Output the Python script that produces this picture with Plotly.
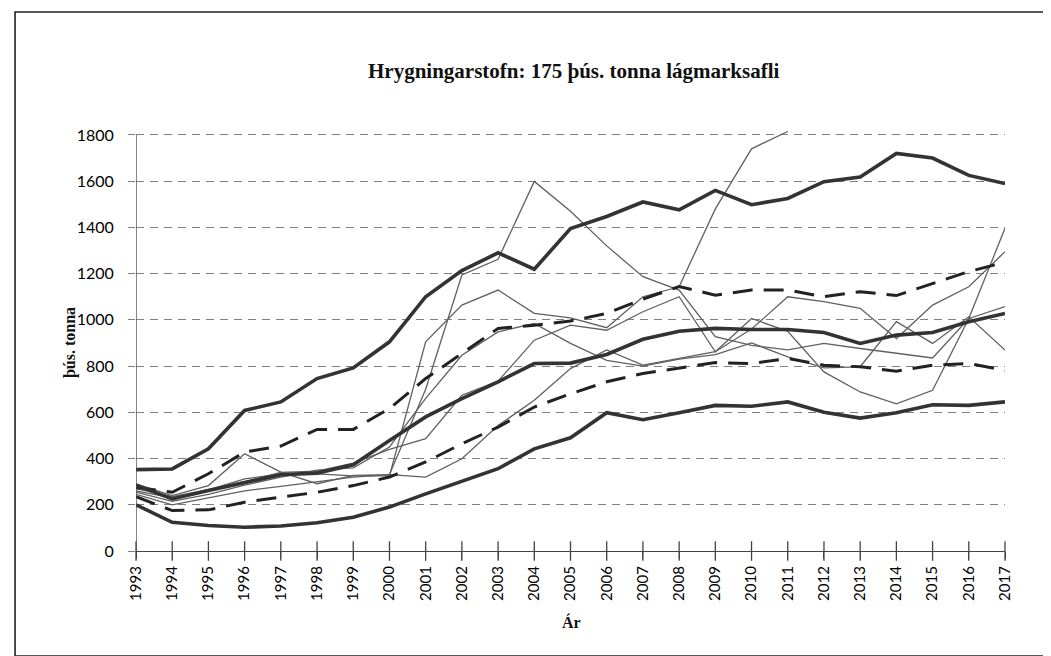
import plotly.graph_objects as go

years = list(range(1993, 2018))

upper_thick = [352, 355, 442, 608, 645, 746, 792, 905, 1100, 1213, 1290, 1219, 1395,
               1447, 1510, 1476, 1560, 1498, 1525, 1598, 1618, 1720, 1700, 1625, 1590]
median_thick = [285, 225, 262, 298, 330, 337, 373, 478, 580, 659, 732, 811, 813,
                850, 916, 951, 963, 958, 958, 945, 898, 934, 945, 992, 1028]
lower_thick = [200, 124, 110, 103, 108, 122, 146, 190, 247, 300, 356, 442, 490,
               598, 568, 598, 630, 626, 645, 600, 575, 598, 633, 630, 645]
upper_dashed = [275, 254, 334, 428, 454, 526, 526, 616, 746, 854, 963, 977, 995,
                1028, 1090, 1144, 1107, 1129, 1129, 1100, 1122, 1105, 1158, 1209, 1249]
lower_dashed = [235, 175, 178, 211, 233, 254, 283, 320, 385, 464, 536, 623, 680,
                732, 768, 792, 815, 811, 833, 804, 797, 778, 804, 811, 782]

run_1 = [270, 235, 265, 312, 334, 334, 325, 325, 905, 1064, 1129, 1028, 1009,
         966, 1100, 1143, 1480, 1740, 1815, None, None, None, None, None, None]
run_2 = [290, 240, 283, 421, 341, 291, 327, 330, 700, 1194, 1262, 1599, 1470,
         1320, 1187, 1129, 927, 890, 870, 898, 876, 854, 835, 1006, 1057]
run_3 = [260, 230, 265, 300, 340, 345, 380, 440, 486, 674, 735, 912, 977,
         955, 1035, 1100, 862, 1006, 950, 775, 688, 637, 695, 1006, 1396]
run_4 = [245, 200, 230, 260, 280, 300, 320, 330, 320, 399, 543, 652, 789,
         870, 804, 833, 862, 960, 1100, 1079, 1050, 919, 1064, 1143, 1295]
run_5 = [255, 215, 245, 285, 320, 350, 360, 450, 660, 847, 948, 985, 898,
         825, 800, 830, 850, 900, 840, 792, 797, 992, 898, 1013, 869]

y_ticks = [0, 200, 400, 600, 800, 1000, 1200, 1400, 1600, 1800]

title_text = "Hrygningarstofn: 175 þús. tonna lágmarksafli"
y_title = "þús. tonna"
x_title = "Ár"

fig = go.Figure()

for run in [run_1, run_2, run_3, run_4, run_5]:
    fig.add_trace(go.Scatter(x=years, y=run, mode="lines",
                             line=dict(color="#606060", width=1.3),
                             hoverinfo="skip"))

for ser in [upper_dashed, lower_dashed]:
    fig.add_trace(go.Scatter(x=years, y=ser, mode="lines",
                             line=dict(color="#222222", width=3, dash="20px,11px"),
                             hoverinfo="skip"))

for ser in [upper_thick, median_thick, lower_thick]:
    fig.add_trace(go.Scatter(x=years, y=ser, mode="lines",
                             line=dict(color="#333333", width=3.6),
                             hoverinfo="skip"))

# crossing tick marks on x axis
fig.add_trace(go.Scatter(x=years, y=[0] * len(years), mode="markers",
                         marker=dict(symbol="line-ns", size=14,
                                     line=dict(color="#444444", width=1.3)),
                         cliponaxis=False, hoverinfo="skip"))

serif = "Liberation Serif, Times New Roman, serif"
sans = "Lato, Liberation Sans, sans-serif"

fig.update_layout(
    width=1051, height=656,
    margin=dict(l=128, r=54, t=120, b=113),
    paper_bgcolor="white", plot_bgcolor="white",
    showlegend=False,
    xaxis=dict(range=[1993, 2017], tickmode="array", tickvals=years,
               ticktext=[str(y) for y in years], tickangle=-90,
               tickfont=dict(family=sans, size=15, color="#000000"),
               showgrid=False, zeroline=False,
               showline=True, linecolor="#444444", linewidth=1.3,
               ticks="outside", ticklen=7, tickcolor="#444444", tickwidth=1.3,
               ticklabelstandoff=1),
    yaxis=dict(range=[0, 1830], tickmode="array", tickvals=y_ticks,
               tickfont=dict(family=sans, size=16, color="#000000"),
               showgrid=True, gridcolor="#808080", gridwidth=1.4,
               griddash="8px,6px",
               zeroline=False, showline=False,
               ticks="outside", ticklen=7, tickcolor="#808080", tickwidth=1.3,
               ticklabelstandoff=11),
)

# y axis line from 0 to top tick
fig.add_shape(type="line", xref="x", yref="y", x0=1993, x1=1993,
              y0=y_ticks[0], y1=y_ticks[-1],
              line=dict(color="#444444", width=1.3))

# outer chart frame
fig.add_shape(type="rect", xref="paper", yref="paper",
              x0=-0.1392, x1=1.0518, y0=-0.2482, y1=1.2742,
              line=dict(color="#222222", width=1.6))

fig.add_annotation(text="<b>" + title_text + "</b>", xref="paper", yref="paper",
                   x=0.503, y=1.1348, showarrow=False,
                   xanchor="center", yanchor="middle",
                   font=dict(family=serif, size=21, color="#111111"))

fig.add_annotation(text="<b>" + y_title + "</b>", xref="paper", yref="paper",
                   x=-0.0759, y=0.4917, showarrow=False, textangle=-90,
                   xanchor="center", yanchor="middle",
                   font=dict(family=serif, size=16, color="#111111"))

fig.add_annotation(text="<b>" + x_title + "</b>", xref="paper", yref="paper",
                   x=0.5006, y=-0.1678, showarrow=False,
                   xanchor="center", yanchor="middle",
                   font=dict(family=serif, size=16, color="#111111"))

fig.write_html("out.html")
